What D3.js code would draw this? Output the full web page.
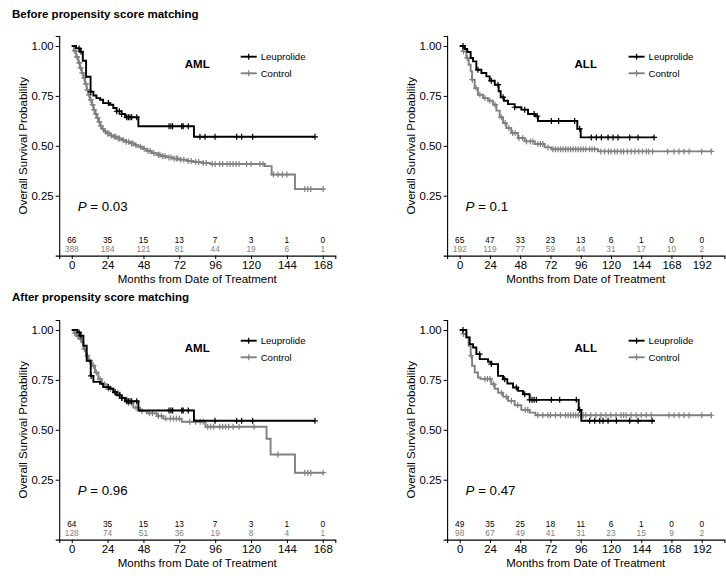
<!DOCTYPE html>
<html><head><meta charset="utf-8">
<script src="https://cdn.jsdelivr.net/npm/d3@7"></script>
<style>body{margin:0;background:#fff}svg{display:block;font-family:"Liberation Sans",Arial,sans-serif}</style>
</head><body><svg id="c" width="726" height="576"></svg>
<script>
// ---------- DATA ----------
const groups = ["Leuprolide", "Control"];
const amlTicks = [0, 24, 48, 72, 96, 120, 144, 168];
const allTicks = [0, 24, 48, 72, 96, 120, 144, 168, 192];
const yTicks = [0.25, 0.50, 0.75, 1.00];

// Before matching – AML
const amlBeforeLeuT = [0, 2.9, 5.5, 7.4, 9.6, 12.6, 14.5, 16.5, 19, 21, 25.6, 27.8, 30, 33.4, 35.7, 44.6, 81.8];
const amlBeforeLeuS = [1, 0.988, 0.971, 0.926, 0.846, 0.771, 0.752, 0.739, 0.731, 0.714, 0.706, 0.689, 0.673, 0.659, 0.643, 0.598, 0.545];
const amlBeforeLeuEnd = 162.8;
const amlBeforeLeuCens = [4.9, 6.2, 12.7, 24.5, 30.1, 31.9, 33.4, 36.8, 37.9, 39, 40.1, 43.5, 65.1, 66.4, 67.5, 73.6, 74.6, 78, 85.8, 89.2, 95.9, 110.4, 113.7, 121.1, 162.8];
const amlBeforeCtlT = [0, 1.5, 3, 4.4, 5.5, 6.7, 7.8, 8.9, 10, 11.1, 12.2, 13.4, 14.5, 15.6, 16.7, 17.8, 19, 20, 21.5, 23.4, 25.5, 27.8, 30.5, 33.4, 36, 39, 42, 44.6, 47.5, 50.2, 53.5, 56.9, 60, 63.5, 68, 72.5, 77, 81.4, 87, 92.5, 129.3, 133.8, 149.4];
const amlBeforeCtlS = [1, 0.975, 0.945, 0.915, 0.89, 0.865, 0.84, 0.81, 0.78, 0.755, 0.73, 0.705, 0.68, 0.66, 0.64, 0.62, 0.6, 0.585, 0.572, 0.562, 0.552, 0.545, 0.537, 0.528, 0.52, 0.512, 0.503, 0.495, 0.485, 0.474, 0.463, 0.455, 0.448, 0.442, 0.436, 0.43, 0.424, 0.419, 0.414, 0.409, 0.398, 0.356, 0.283];
const amlBeforeCtlEnd = 168.3;
const amlBeforeCtlCens = [2, 3.5, 5, 6, 7, 8.3, 9.5, 10.5, 11.5, 12.8, 14, 15, 16.2, 17.3, 18.5, 19.5, 21, 22.5, 24, 25, 26.5, 28.5, 29.5, 31, 32, 34.5, 36.5, 38, 40, 41, 43, 46, 48.5, 51, 52.5, 55, 58, 59, 61, 62.5, 65, 66.5, 68.5, 70, 71, 73, 75, 78, 80, 83, 85, 88, 90, 94, 96, 99, 101, 104, 106, 108, 110, 112, 117, 120, 126, 128, 135, 138, 141, 144, 156, 158, 160, 168.3];
const amlBeforeLeuRisk = [66, 35, 15, 13, 7, 3, 1, 0];
const amlBeforeCtlRisk = [388, 184, 121, 81, 44, 19, 6, 1];

// Before matching – ALL
const allBeforeLeuT = [0, 4, 6, 8.7, 10.6, 13.2, 17.2, 21.1, 23.8, 27.8, 30.9, 32.5, 35.1, 38.3, 43.6, 48.9, 54.2, 60, 62.1, 93.3, 96];
const allBeforeLeuS = [1, 0.985, 0.97, 0.94, 0.923, 0.881, 0.865, 0.848, 0.826, 0.806, 0.773, 0.743, 0.726, 0.709, 0.693, 0.681, 0.659, 0.648, 0.624, 0.585, 0.542];
const allBeforeLeuEnd = 154.7;
const allBeforeLeuCens = [2.6, 14.5, 25.1, 30.4, 34.4, 43.6, 51.6, 59, 61.6, 72.7, 78.5, 91.2, 95.2, 104.4, 108.4, 112.4, 117.7, 121.6, 125.6, 134.9, 141.5, 154.2];
const allBeforeCtlT = [0, 2.6, 5.3, 7.1, 8.7, 9.8, 11.9, 14.5, 18.5, 22.5, 26.4, 29.1, 31.7, 34.4, 37, 40.9, 46.3, 51.6, 59.5, 67.4, 72.7, 109.7];
const allBeforeCtlS = [1, 0.973, 0.94, 0.906, 0.873, 0.831, 0.789, 0.756, 0.739, 0.726, 0.706, 0.676, 0.643, 0.614, 0.589, 0.564, 0.539, 0.522, 0.509, 0.492, 0.483, 0.472];
const allBeforeCtlEnd = 199.6;
const allBeforeCtlCens = [3, 6, 10, 13, 16, 20, 24, 28, 33, 36, 39, 42, 44, 47, 50, 53, 56, 58, 62, 64, 66, 70, 74, 76, 78, 80, 82, 84, 86, 88, 90, 92, 94, 96, 98, 100, 103, 105, 107, 112, 115, 118, 120, 123, 125, 128, 130, 133, 136, 139, 142, 145, 148, 150, 153, 165, 170, 174, 178, 182, 192, 199.6];
const allBeforeLeuRisk = [65, 47, 33, 23, 13, 6, 1, 0, 0];
const allBeforeCtlRisk = [192, 119, 77, 59, 44, 31, 17, 10, 2];

// After matching – AML
const amlAfterLeuT = [0, 3.8, 5.5, 7.8, 10, 12.7, 14.5, 19, 21, 25.6, 27.8, 30, 33.4, 35.7, 44.6, 81.8];
const amlAfterLeuS = [1, 0.988, 0.971, 0.921, 0.846, 0.77, 0.74, 0.731, 0.714, 0.706, 0.689, 0.673, 0.659, 0.643, 0.597, 0.545];
const amlAfterLeuEnd = 162.8;
const amlAfterLeuCens = [4.9, 6.2, 13, 24.5, 29, 31.9, 33.4, 36.8, 37.9, 39, 40.1, 43.5, 65.1, 66.4, 67.5, 73.6, 74.6, 78, 95.9, 110.4, 113.7, 121.1, 162.8];
const amlAfterCtlT = [0, 1.5, 3, 5, 6.5, 7.8, 9.5, 11.1, 13.4, 15.6, 17.8, 20.1, 23.4, 27.8, 32.3, 36.8, 41.2, 45.7, 50.2, 56.9, 61.3, 73.6, 89.5, 130.4, 133.1, 149.4];
const amlAfterCtlS = [1, 0.985, 0.97, 0.955, 0.938, 0.904, 0.871, 0.846, 0.821, 0.787, 0.753, 0.728, 0.706, 0.686, 0.661, 0.636, 0.611, 0.594, 0.583, 0.569, 0.556, 0.54, 0.515, 0.455, 0.376, 0.285];
const amlAfterCtlEnd = 168.3;
const amlAfterCtlCens = [2, 4, 6, 8.5, 10.5, 12, 14.5, 16.5, 19, 22, 24.5, 26, 29, 31, 34, 38, 40, 43, 47, 52, 54, 58, 60, 63, 66, 68, 70, 72, 79, 83, 86, 88, 91, 93, 95, 99, 101, 103, 105, 108, 112, 122, 138, 156, 158, 160, 168.3];
const amlAfterLeuRisk = [64, 35, 15, 13, 7, 3, 1, 0];
const amlAfterCtlRisk = [128, 74, 51, 36, 19, 8, 4, 1];

// After matching – ALL
const allAfterLeuT = [0, 5.3, 7.9, 10.6, 13.2, 15.9, 22.5, 25.1, 30.4, 34.4, 37.8, 42.3, 46.3, 50.2, 55.5, 94.4, 96.5];
const allAfterLeuS = [1, 0.963, 0.929, 0.912, 0.879, 0.854, 0.841, 0.829, 0.77, 0.753, 0.732, 0.712, 0.695, 0.678, 0.65, 0.6, 0.545];
const allAfterLeuEnd = 154.7;
const allAfterLeuCens = [2.6, 15.8, 25.1, 35.7, 44.9, 51.6, 55.5, 57.4, 59, 60.8, 72.7, 79.3, 92.5, 95.2, 103.1, 107.1, 111.1, 113.7, 117.7, 124.3, 134.9, 141.5, 152.6];
const allAfterCtlT = [0, 2.6, 5.3, 7.1, 8.7, 9.8, 11.9, 14.5, 16.5, 25.1, 27.8, 30.4, 34.4, 38.3, 43.6, 48.9, 55.5, 60];
const allAfterCtlS = [1, 0.98, 0.963, 0.921, 0.871, 0.821, 0.787, 0.762, 0.755, 0.728, 0.706, 0.686, 0.666, 0.645, 0.623, 0.6, 0.586, 0.573];
const allAfterCtlEnd = 199.6;
const allAfterCtlCens = [3, 9, 20, 22, 24, 27, 33, 37, 41, 46, 52, 54, 62, 66, 70, 72, 76, 80, 84, 86, 88, 90, 92, 94, 96, 98, 100, 104, 108, 112, 116, 120, 124, 128, 130, 132, 136, 140, 144, 148, 152, 166, 170, 174, 178, 182, 192, 199.6];
const allAfterLeuRisk = [49, 35, 25, 18, 11, 6, 1, 0, 0];
const allAfterCtlRisk = [98, 67, 49, 41, 31, 23, 15, 9, 2];

const sectionTitles = ["Before propensity score matching", "After propensity score matching"];
const pValues = ["0.03", "0.1", "0.96", "0.47"];

// ---------- LAYOUT ----------
const colors = {Leuprolide: "#000000", Control: "#808080"};
const FONT = '"Liberation Sans", Arial, sans-serif';
const svg = d3.select("#c");

const panels = [
  {disease: "AML", x0: 59.2, x1: 335.3, xd: [-8.4, 176.4], y0: 36, y1: 255.6, ticks: amlTicks, p: pValues[0],
   series: [
     {g: "Leuprolide", t: amlBeforeLeuT, s: amlBeforeLeuS, end: amlBeforeLeuEnd, c: amlBeforeLeuCens, risk: amlBeforeLeuRisk},
     {g: "Control", t: amlBeforeCtlT, s: amlBeforeCtlS, end: amlBeforeCtlEnd, c: amlBeforeCtlCens, risk: amlBeforeCtlRisk}]},
  {disease: "ALL", x0: 447.1, x1: 724.4, xd: [-10, 210], y0: 36, y1: 255.6, ticks: allTicks, p: pValues[1],
   series: [
     {g: "Leuprolide", t: allBeforeLeuT, s: allBeforeLeuS, end: allBeforeLeuEnd, c: allBeforeLeuCens, risk: allBeforeLeuRisk},
     {g: "Control", t: allBeforeCtlT, s: allBeforeCtlS, end: allBeforeCtlEnd, c: allBeforeCtlCens, risk: allBeforeCtlRisk}]},
  {disease: "AML", x0: 59.2, x1: 335.3, xd: [-8.4, 176.4], y0: 320, y1: 539.6, ticks: amlTicks, p: pValues[2],
   series: [
     {g: "Leuprolide", t: amlAfterLeuT, s: amlAfterLeuS, end: amlAfterLeuEnd, c: amlAfterLeuCens, risk: amlAfterLeuRisk},
     {g: "Control", t: amlAfterCtlT, s: amlAfterCtlS, end: amlAfterCtlEnd, c: amlAfterCtlCens, risk: amlAfterCtlRisk}]},
  {disease: "ALL", x0: 447.1, x1: 724.4, xd: [-10, 210], y0: 320, y1: 539.6, ticks: allTicks, p: pValues[3],
   series: [
     {g: "Leuprolide", t: allAfterLeuT, s: allAfterLeuS, end: allAfterLeuEnd, c: allAfterLeuCens, risk: allAfterLeuRisk},
     {g: "Control", t: allAfterCtlT, s: allAfterCtlS, end: allAfterCtlEnd, c: allAfterCtlCens, risk: allAfterCtlRisk}]}
];

// section titles
svg.append("text").attr("x", 12).attr("y", 18).attr("font-size", 11.5).attr("font-weight", "bold").text(sectionTitles[0]);
svg.append("text").attr("x", 12).attr("y", 301).attr("font-size", 11.5).attr("font-weight", "bold").text(sectionTitles[1]);

function plusPath(x, y, r) { return `M${x - r},${y}H${x + r}M${x},${y - r}V${y + r}`; }

panels.forEach(P => {
  const x = d3.scaleLinear().domain(P.xd).range([P.x0, P.x1]);
  const y = d3.scaleLinear().domain([-0.05, 1.05]).range([P.y1, P.y0]);
  const g = svg.append("g");

  // axes
  const ax = g.append("g").attr("transform", `translate(0,${P.y1})`)
    .call(d3.axisBottom(x).tickValues(P.ticks).tickSizeOuter(0).tickSize(3.5).tickPadding(2));
  const ay = g.append("g").attr("transform", `translate(${P.x0},0)`)
    .call(d3.axisLeft(y).tickValues(yTicks).tickFormat(d3.format(".2f")).tickSizeOuter(0).tickSize(3.5).tickPadding(2));
  [ax, ay].forEach(a => {
    a.selectAll("path.domain").attr("stroke", "#000").attr("stroke-width", 1.1);
    a.selectAll(".tick line").attr("stroke", "#000").attr("stroke-width", 1);
    a.selectAll(".tick text").attr("fill", "#000").attr("font-size", 11.4).attr("font-family", FONT);
  });

  // axis titles
  const cx = (P.x0 + P.x1) / 2, cy = (P.y0 + P.y1) / 2;
  g.append("text").attr("x", cx).attr("y", P.y1 + 27).attr("text-anchor", "middle").attr("font-size", 11.5).text("Months from Date of Treatment");
  g.append("text").attr("transform", `translate(${P.x0 - 32},${cy}) rotate(-90)`).attr("text-anchor", "middle").attr("font-size", 11.5).text("Overall Survival Probability");

  // curves (draw control first, leuprolide on top)
  const line = d3.line().x(d => x(d[0])).y(d => y(d[1])).curve(d3.curveStepAfter);
  [...P.series].reverse().forEach(S => {
    const pts = S.t.map((t, i) => [t, S.s[i]]);
    pts.push([S.end, S.s[S.s.length - 1]]);
    g.append("path").attr("d", line(pts)).attr("fill", "none").attr("stroke", colors[S.g]).attr("stroke-width", 1.9);
    const surv = t => { let v = 1; for (let i = 0; i < S.t.length; i++) { if (S.t[i] <= t) v = S.s[i]; } return v; };
    g.append("path").attr("d", S.c.map(t => plusPath(x(t), y(surv(t)), 3)).join(""))
      .attr("stroke", colors[S.g]).attr("stroke-width", 1.2).attr("fill", "none");
  });

  // disease label
  g.append("text").attr("x", cx).attr("y", P.y0 + 31.5).attr("text-anchor", "middle").attr("font-size", 11.5).attr("font-weight", "bold").text(P.disease);

  // legend
  groups.forEach((grp, i) => {
    const ly = P.y0 + 20.7 + i * 16.6, lx = P.x0 + 181.5;
    g.append("line").attr("x1", lx).attr("x2", lx + 16).attr("y1", ly).attr("y2", ly).attr("stroke", colors[grp]).attr("stroke-width", 1.9);
    g.append("path").attr("d", plusPath(lx + 8, ly, 3)).attr("stroke", colors[grp]).attr("stroke-width", 1.2);
    g.append("text").attr("x", lx + 20).attr("y", ly + 3.5).attr("font-size", 9.6).text(grp);
  });

  // p value
  const pt = g.append("text").attr("x", P.x0 + 18.5).attr("y", P.y0 + 174.5).attr("font-size", 13.3);
  pt.append("tspan").attr("font-style", "italic").text("P");
  pt.append("tspan").text(" = " + P.p);

  // risk table
  P.series.forEach((S, i) => {
    g.selectAll(null).data(S.risk).enter().append("text")
      .attr("x", (d, j) => x(P.ticks[j])).attr("y", P.y1 - 12.5 + i * 8.6)
      .attr("text-anchor", "middle").attr("font-size", 8.3).attr("fill", colors[S.g]).text(d => d);
  });
});
</script></body></html>
